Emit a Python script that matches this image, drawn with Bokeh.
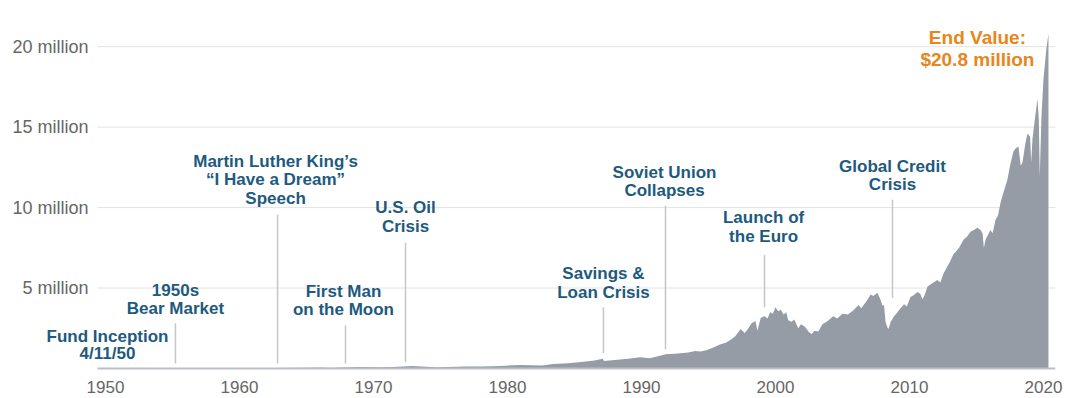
from bokeh.plotting import figure
from bokeh.models import Range1d, FixedTicker, ColumnDataSource
from bokeh.core.properties import value
from bokeh.embed import file_html
from bokeh.resources import INLINE

# ---------------- data (growth of investment, millions of $) ----------------
years = [
    1950.28, 1951.5, 1953.0, 1953.7, 1955.2, 1956.6, 1957.8, 1959.5, 1960.8, 1961.9,
    1962.5, 1964.5, 1966.0, 1966.8, 1968.9, 1970.4, 1971.5, 1972.9, 1973.9, 1974.7,
    1975.5, 1976.9, 1978.1, 1979.5, 1980.9, 1981.7, 1982.6, 1983.4, 1984.5, 1985.5,
    1986.5, 1987.1, 1987.2, 1988.0, 1989.0, 1989.9, 1990.6, 1991.0, 1991.8, 1992.5,
    1993.5, 1994.0, 1994.4, 1994.9, 1995.4, 1995.9, 1996.3, 1996.6, 1997.0, 1997.4,
    1997.7, 1997.9, 1998.2, 1998.5, 1998.65, 1998.9, 1999.2, 1999.4, 1999.6, 1999.8,
    2000.0, 2000.2, 2000.4, 2000.6, 2000.8, 2000.95, 2001.2, 2001.4, 2001.7, 2001.9,
    2002.2, 2002.5, 2002.7, 2002.9, 2003.2, 2003.5, 2003.9, 2004.3, 2004.6, 2005.0,
    2005.4, 2005.8, 2006.2, 2006.4, 2006.8, 2007.1, 2007.3, 2007.6, 2007.8, 2007.99,
    2008.1, 2008.21, 2008.35, 2008.43, 2008.6, 2008.81, 2009.1, 2009.33, 2009.6, 2009.8,
    2010.07, 2010.3, 2010.6, 2010.8, 2010.97, 2011.15, 2011.34, 2011.7, 2012.09, 2012.3,
    2012.54, 2012.8, 2013.0, 2013.28, 2013.5, 2013.7, 2014.03, 2014.3, 2014.55, 2014.8,
    2015.07, 2015.3, 2015.45, 2015.55, 2015.67, 2016.04, 2016.2, 2016.42, 2016.6, 2016.79,
    2017.0, 2017.31, 2017.5, 2017.76, 2017.95, 2018.13, 2018.3, 2018.43, 2018.65, 2018.81,
    2019.0, 2019.08, 2019.18, 2019.4, 2019.55, 2019.65, 2019.72, 2019.85, 2020.0, 2020.22,
    2020.37,
]
values_m = [
    0.004, 0.008, 0.011, 0.010, 0.018, 0.022, 0.019, 0.028, 0.030, 0.038,
    0.032, 0.048, 0.058, 0.050, 0.085, 0.070, 0.10, 0.15, 0.11, 0.07,
    0.10, 0.13, 0.12, 0.16, 0.22, 0.20, 0.19, 0.28, 0.32, 0.40,
    0.50, 0.60, 0.47, 0.52, 0.60, 0.70, 0.63, 0.72, 0.88, 0.92,
    1.00, 1.08, 1.05, 1.15, 1.32, 1.50, 1.60, 1.75, 2.00, 2.45,
    2.20, 2.40, 2.80, 2.95, 2.35, 3.15, 3.25, 3.10, 3.50, 3.40,
    3.80, 3.55, 3.65, 3.35, 3.50, 3.00, 2.90, 3.05, 2.50, 2.75,
    2.60, 2.25, 2.15, 2.35, 2.30, 2.75, 2.95, 3.25, 3.10, 3.40,
    3.35, 3.60, 3.95, 3.75, 4.20, 4.60, 4.50, 4.70, 4.35, 3.90,
    3.95, 2.90, 2.55, 2.45, 2.90, 3.20, 3.50, 3.75, 4.00, 3.85,
    4.45, 4.55, 4.75, 4.65, 4.30, 4.60, 5.10, 5.30, 5.50, 5.35,
    5.90, 6.30, 6.60, 7.10, 7.30, 7.50, 8.00, 8.20, 8.50, 8.60,
    8.75, 8.60, 8.40, 7.50, 8.00, 8.60, 8.40, 9.25, 9.50, 10.30,
    10.90, 11.75, 12.60, 13.50, 13.70, 13.80, 12.60, 12.80, 14.00, 14.60,
    14.40, 12.80, 14.30, 15.80, 16.75, 15.50, 11.90, 15.70, 18.00, 19.90,
    20.80,
]

x_ticks = [1950, 1960, 1970, 1980, 1990, 2000, 2010, 2020]
y_ticks = [5, 10, 15, 20]
y_tick_labels = ["5 million", "10 million", "15 million", "20 million"]

event_labels = [
    ["1950s", "Bear Market"],
    ["Martin Luther King\u2019s", "\u201cI Have a Dream\u201d", "Speech"],
    ["First Man", "on the Moon"],
    ["U.S. Oil", "Crisis"],
    ["Savings &", "Loan Crisis"],
    ["Soviet Union", "Collapses"],
    ["Launch of", "the Euro"],
    ["Global Credit", "Crisis"],
]
event_years = [1955.22, 1962.84, 1967.91, 1972.39, 1987.16, 1991.79, 1999.18, 2008.73]

inception_label = ["Fund Inception", "4/11/50"]
end_label = ["End Value:", "$20.8 million"]

# ---------------- layout / style (not data) ----------------
PX_PER_M = 16.0          # pixels per million on the y scale
PX_PER_YR = 13.4         # pixels per year on the x scale
LINE_PX = 18.5           # annotation line spacing in px
label_top = [4.875, 12.875, 4.81, 10.0, 5.875, 12.19, 9.375, 12.56]  # first text line (value units)
leader_top = [2.81, 9.56, 2.69, 7.81, 3.81, 10.1, 7.06, 10.5]
leader_bot = [0.31, 0.31, 0.31, 0.38, 0.94, 1.19, 3.81, 4.38]
text_x_shift = [0.0, -0.15, -0.15, 0.0, 0.0, -0.07, -0.07, 0.0]

BLUE = "#1d5a7e"
ORANGE = "#e8861c"
AREA = "#959ca5"
TICK = "#666666"
FONT = "Liberation Sans"

X0 = 1950 - 105 / PX_PER_YR          # left edge of the page
GRID_X0 = 1950 - 8 / PX_PER_YR       # where grid / baseline start
X1 = 1950 + 950 / PX_PER_YR          # right end of grid
LABEL_X = 1950 - 17 / PX_PER_YR      # right edge of y tick labels

p = figure(width=1080, height=398, output_backend="svg", toolbar_location=None,
           x_range=Range1d(X0, X1),
           y_range=Range1d(-2 / PX_PER_M, 352 / PX_PER_M - 2 / PX_PER_M),
           min_border_left=0, min_border_right=25, min_border_top=16, min_border_bottom=28)
p.outline_line_color = None
p.background_fill_color = "white"
p.xgrid.grid_line_color = None
p.ygrid.grid_line_color = None
p.yaxis.visible = False

# horizontal grid lines and y tick labels (frame spans the label area)
p.segment(x0=[GRID_X0] * len(y_ticks), y0=y_ticks, x1=[X1] * len(y_ticks), y1=y_ticks,
          line_color="#e3e3e3", line_width=1)
p.text(x=[LABEL_X] * len(y_ticks), y=y_ticks, text=y_tick_labels,
       text_align="right", text_baseline="middle",
       text_font=value(FONT), text_font_size="18px", text_color=TICK)

# area
src = ColumnDataSource(dict(x=years, y=values_m))
p.varea(x="x", y1=0, y2="y", source=src, fill_color=AREA, fill_alpha=1.0)

# baseline
p.segment(x0=[GRID_X0], y0=[0], x1=[X1], y1=[0], line_color="#bcc0c5", line_width=2)

# x axis (labels only)
p.xaxis.ticker = FixedTicker(ticks=x_ticks)
p.xaxis.major_tick_line_color = None
p.xaxis.minor_tick_line_color = None
p.xaxis.axis_line_color = None
p.xaxis.major_label_standoff = 4
p.xaxis.major_label_text_font = FONT
p.xaxis.major_label_text_font_size = "17px"
p.xaxis.major_label_text_color = TICK

# leader lines
p.segment(x0=event_years, y0=leader_bot, x1=event_years, y1=leader_top,
          line_color="#c3c7cc", line_width=1.5)

# annotation texts
tx, ty, tt = [], [], []
for lines, yr, top, sh in zip(event_labels, event_years, label_top, text_x_shift):
    for i, s in enumerate(lines):
        tx.append(yr + sh)
        ty.append(top - i * LINE_PX / PX_PER_M)
        tt.append(s)
for i, s in enumerate(inception_label):
    tx.append(1950.15)
    ty.append(2.0 - i * 17.5 / PX_PER_M)
    tt.append(s)
p.text(x=tx, y=ty, text=tt, text_align="center", text_baseline="middle",
       text_font=value(FONT), text_font_style="bold", text_font_size="17px",
       text_color=BLUE)

ex = [2015.07] * len(end_label)
ey = [20.56 - i * 22 / PX_PER_M for i in range(len(end_label))]
p.text(x=ex, y=ey, text=end_label, text_align="center", text_baseline="middle",
       text_font=value(FONT), text_font_style="bold", text_font_size="19px",
       text_color=ORANGE)

open("out.html", "w").write(file_html(p, INLINE))
